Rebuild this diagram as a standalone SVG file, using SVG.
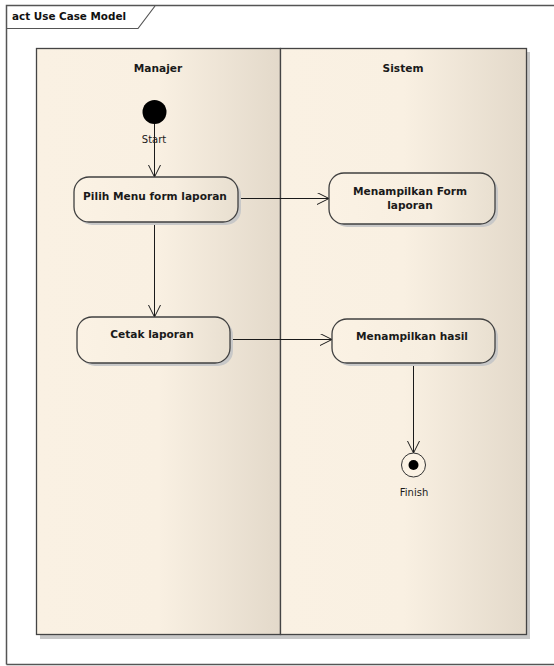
<svg xmlns="http://www.w3.org/2000/svg" width="554" height="666" viewBox="0 0 554 666">
  <style>
    .lbl { font-family: "DejaVu Sans", Verdana, sans-serif; font-size: 10.6px; font-weight: bold; fill: #1a1a1a; text-anchor: middle; }
    .small { font-family: "DejaVu Sans", Verdana, sans-serif; font-size: 10px; fill: #1a1a1a; text-anchor: middle; }
    .edge { fill: none; stroke: #1a1a1a; stroke-width: 1; }
    .act { stroke: #404040; stroke-width: 1.3; fill: url(#actFill); }
    .shadow { fill: #c8c8c8; }
  </style>
  <defs>
    <linearGradient id="laneFill" x1="0" y1="0" x2="1" y2="0">
      <stop offset="0" stop-color="#faf1e3"/>
      <stop offset="0.5" stop-color="#f9f0e2"/>
      <stop offset="1" stop-color="#e3d9ca"/>
    </linearGradient>
    <linearGradient id="actFill" x1="0" y1="0" x2="1" y2="0">
      <stop offset="0" stop-color="#fbf2e4"/>
      <stop offset="0.6" stop-color="#f7eee0"/>
      <stop offset="1" stop-color="#e8dfd0"/>
    </linearGradient>
    <marker id="open" markerWidth="14" markerHeight="14" refX="12" refY="6" orient="auto" markerUnits="userSpaceOnUse">
      <path d="M0,0 L12,6 L0,12" fill="none" stroke="#1a1a1a" stroke-width="1"/>
    </marker>
  </defs>

  <rect width="554" height="666" fill="#ffffff"/>

  <!-- diagram frame -->
  <g id="frame">
    <path d="M6.5,664.5 L6.5,5.5 L554,5.5" fill="none" stroke="#555" stroke-width="1.5"/>
    <path d="M6.5,664.5 L554,664.5" fill="none" stroke="#555" stroke-width="1.5"/>
    <path d="M6.5,28.5 L138,28.5 L155,6" fill="none" stroke="#555" stroke-width="1.2"/>
    <text x="12" y="20" font-family="DejaVu Sans, Verdana, sans-serif" font-size="10.4" font-weight="bold" fill="#111">act Use Case Model</text>
  </g>

  <!-- swimlanes -->
  <g id="lanes">
    <rect class="shadow" x="40" y="52" width="490" height="587"/>
    <rect x="36.5" y="48.5" width="244" height="586" fill="url(#laneFill)" stroke="#444" stroke-width="1.3"/>
    <rect x="280.5" y="48.5" width="246" height="586" fill="url(#laneFill)" stroke="#444" stroke-width="1.3"/>
    <text class="lbl" x="158" y="72">Manajer</text>
    <text class="lbl" x="403" y="72">Sistem</text>
  </g>

  <!-- connectors -->
  <g id="connectors">
    <path class="edge" d="M154.5,112 L154.5,177" marker-end="url(#open)"/>
    <path class="edge" d="M238,198.5 L329,198.5" marker-end="url(#open)"/>
    <path class="edge" d="M154.5,222 L154.5,317" marker-end="url(#open)"/>
    <path class="edge" d="M230,339.5 L332,339.5" marker-end="url(#open)"/>
    <path class="edge" d="M413.5,363 L413.5,453" marker-end="url(#open)"/>
  </g>

  <!-- start node -->
  <g id="start">
    <circle cx="154.5" cy="112" r="12" fill="#000"/>
    <text class="small" x="154" y="143">Start</text>
  </g>

  <g id="pilih">
    <rect class="shadow" x="77" y="180" width="164" height="45" rx="15"/>
    <rect class="act" x="74" y="177" width="164" height="45" rx="15"/>
    <text class="lbl" x="155" y="200">Pilih Menu form laporan</text>
  </g>

  <g id="form">
    <rect class="shadow" x="332" y="176" width="166" height="51" rx="15"/>
    <rect class="act" x="329" y="173" width="166" height="51" rx="15"/>
    <text class="lbl" x="410" y="195">Menampilkan Form</text>
    <text class="lbl" x="410" y="209">laporan</text>
  </g>

  <g id="cetak">
    <rect class="shadow" x="80" y="320" width="153" height="46" rx="15"/>
    <rect class="act" x="77" y="317" width="153" height="46" rx="15"/>
    <text class="lbl" x="152" y="338">Cetak laporan</text>
  </g>

  <g id="hasil">
    <rect class="shadow" x="335" y="322" width="163" height="44" rx="15"/>
    <rect class="act" x="332" y="319" width="163" height="44" rx="15"/>
    <text class="lbl" x="412" y="340">Menampilkan hasil</text>
  </g>

  <!-- final node -->
  <g id="finish">
    <circle cx="413.5" cy="465" r="12" fill="#fbf2e4" stroke="#333" stroke-width="1"/>
    <circle cx="413.5" cy="465" r="5" fill="#000"/>
    <text class="small" x="414" y="496">Finish</text>
  </g>
</svg>
